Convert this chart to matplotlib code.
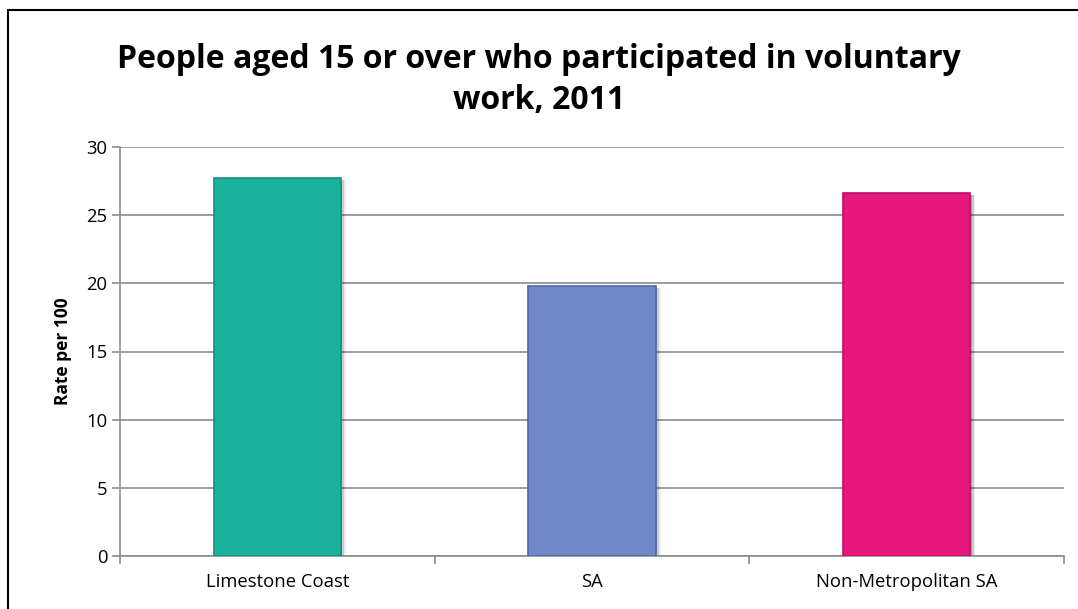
import matplotlib.pyplot as plt
import matplotlib.patches as mpatches
import numpy as np

categories = ["Limestone Coast", "SA", "Non-Metropolitan SA"]
values = [27.7, 19.8, 26.6]
colors = ["#1bb19c", "#7189c7", "#e8177b"]
edges = ["#168f7e", "#4f67a8", "#b81262"]

plt.rcParams['font.family'] = ['Open Sans', 'DejaVu Sans']

fig = plt.figure(figsize=(10.78, 6.09), dpi=100)
ax = fig.add_axes([120/1078, 1 - 556/609, (1064-120)/1078, (556-147)/609])

x = np.arange(len(categories))
w = 0.405
# soft shadow on right side of each bar
for i, v in enumerate(values):
    for k, a in enumerate([0.22, 0.14, 0.07]):
        ax.bar(x[i] + 0.004 + 0.006*k, v - 0.15, w, bottom=0, color='black', alpha=a,
               zorder=2, linewidth=0)
ax.bar(x, values, w, color=colors, edgecolor=edges, linewidth=1.2, zorder=3)

ax.set_xlim(-0.5, 2.5)
ax.set_ylim(0, 30)
ax.set_yticks(range(0, 31, 5))
ax.yaxis.grid(True, color='#8c8c8c', linewidth=1.2, zorder=0)
ax.set_axisbelow(True)

ax.set_xticks([-0.5, 0.5, 1.5, 2.5], minor=False)
ax.set_xticklabels([])
ax.set_xticks(x, minor=True)
ax.set_xticklabels(categories, minor=True, fontsize=13.3)
ax.tick_params(axis='x', which='minor', length=0, pad=12)
ax.tick_params(axis='x', which='major', length=6, color='#8c8c8c', width=1.2)
ax.tick_params(axis='y', length=6, color='#8c8c8c', width=1.2, labelsize=13.3, pad=3)

for s in ['top', 'right']:
    ax.spines[s].set_visible(False)
for s in ['left', 'bottom']:
    ax.spines[s].set_color('#8c8c8c')
    ax.spines[s].set_linewidth(1.2)

ax.set_ylabel("Rate per 100", fontsize=12.5, fontweight='bold', labelpad=10)

fig.text(0.5, 1 - 80/609, "People aged 15 or over who participated in voluntary\nwork, 2011",
         ha='center', va='center', fontsize=23, fontweight='bold', linespacing=1.3)

# chart frame
frame = mpatches.Rectangle((8/1078, -0.1), 1.2, 1 - 10/609 + 0.1, transform=fig.transFigure,
                           fill=False, edgecolor='black', linewidth=1.5)
fig.patches.append(frame)

fig.savefig("out.png", dpi=100)
